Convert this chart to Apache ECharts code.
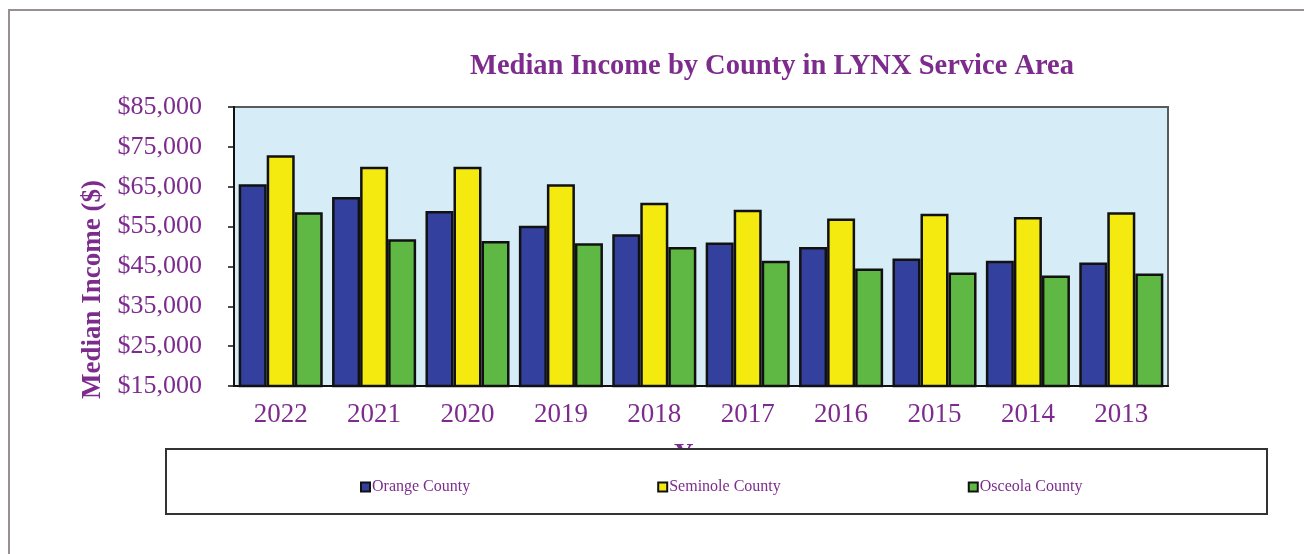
<!DOCTYPE html>
<html>
<head>
<meta charset="utf-8">
<script src="https://cdn.jsdelivr.net/npm/echarts@6/dist/echarts.min.js"></script>
<style>
  html, body { margin: 0; padding: 0; background: #ffffff; }
  #chart { width: 1304px; height: 554px; }
</style>
</head>
<body>
<div id="chart"></div>
<script>
// Survey years, newest first
const years = ['2022', '2021', '2020', '2019', '2018', '2017', '2016', '2015', '2014', '2013'];

// Median household income per county ($)
const orangeCounty = [65600, 62400, 58900, 55200, 53100, 51000, 49900, 47000, 46400, 46000];
const seminoleCounty = [72900, 70000, 70000, 65600, 61000, 59200, 57000, 58200, 57400, 58600];
const osceolaCounty = [58600, 51800, 51400, 50800, 49900, 46400, 44500, 43500, 42700, 43200];

const seriesNames = ['Orange County', 'Seminole County', 'Osceola County'];

const PURPLE = '#7d2c8e';
const SERIF = "'Liberation Serif', 'Times New Roman', serif";

const chart = echarts.init(document.getElementById('chart'));

function barSeries(name, data, color) {
  return {
    name: name,
    type: 'bar',
    data: data,
    barGap: '0%',
    barCategoryGap: '10%',
    itemStyle: { color: color, borderColor: '#111111', borderWidth: 2.5 }
  };
}

chart.setOption({
  animation: false,
  backgroundColor: '#ffffff',
  title: {
    text: 'Median Income by County in LYNX Service Area',
    left: 767,
    textAlign: 'center',
    top: 47,
    textStyle: { fontFamily: SERIF, fontSize: 28.5, fontWeight: 'bold', color: PURPLE }
  },
  grid: {
    left: 234, right: 136, top: 107, bottom: 168,
    show: true,
    backgroundColor: '#d6edf7',
    borderColor: '#5a5a5a',
    borderWidth: 2
  },
  legend: {
    data: seriesNames,
    left: 355,
    top: 474,
    z: 20,
    itemGap: 187,
    itemWidth: 9,
    itemHeight: 9,
    icon: 'rect',
    textStyle: { fontFamily: SERIF, fontSize: 16, color: PURPLE, padding: [0, 0, 0, -3] }
  },
  xAxis: {
    type: 'category',
    data: years,
    name: 'Year',
    nameLocation: 'middle',
    nameGap: 56,
    nameTextStyle: { fontFamily: SERIF, fontSize: 27, fontWeight: 'bold', color: PURPLE },
    axisLine: { lineStyle: { color: '#111111', width: 2 } },
    axisTick: { length: 8, lineStyle: { color: '#111111', width: 1.5 } },
    axisLabel: { margin: 15, fontFamily: SERIF, fontSize: 27, color: PURPLE }
  },
  yAxis: {
    type: 'value',
    min: 15000,
    max: 85000,
    interval: 10000,
    name: 'Median Income ($)',
    nameLocation: 'middle',
    nameRotate: 90,
    nameGap: 115,
    nameTextStyle: { fontFamily: SERIF, fontSize: 27, fontWeight: 'bold', color: PURPLE, padding: [0, 86, 0, 0] },
    axisLine: { show: true, lineStyle: { color: '#111111', width: 2 } },
    axisTick: { show: true, length: 6, lineStyle: { color: '#111111', width: 1.5 } },
    splitLine: { show: false },
    axisLabel: {
      margin: 32,
      fontFamily: SERIF,
      fontSize: 26,
      color: PURPLE,
      formatter: function (v) { return '$' + v.toLocaleString('en-US'); }
    }
  },
  graphic: [
    {
      type: 'rect',
      z: -1,
      silent: true,
      shape: { x: 9, y: 10, width: 1400, height: 600 },
      style: { fill: 'none', stroke: '#9a8f8f', lineWidth: 2 }
    },
    {
      type: 'rect',
      z: 10,
      silent: true,
      shape: { x: 166, y: 449, width: 1101, height: 65 },
      style: { fill: '#ffffff', stroke: '#333333', lineWidth: 2 }
    }
  ],
  series: [
    barSeries(seriesNames[0], orangeCounty, '#34409e'),
    barSeries(seriesNames[1], seminoleCounty, '#f4ea10'),
    barSeries(seriesNames[2], osceolaCounty, '#5fb843')
  ]
});
</script>
</body>
</html>
